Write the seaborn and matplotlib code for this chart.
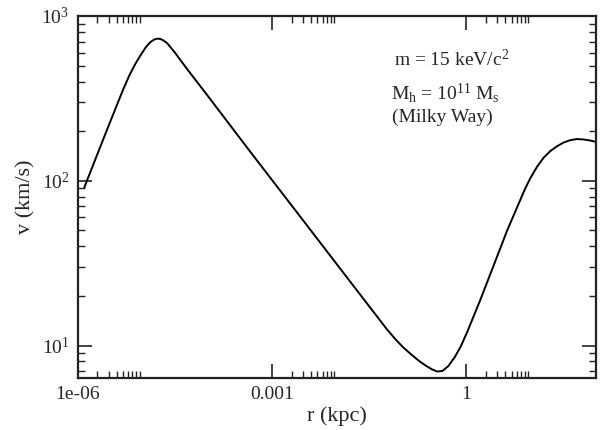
import numpy as np
import pandas as pd
import matplotlib
matplotlib.use("Agg")
import matplotlib.pyplot as plt
import seaborn as sns
from matplotlib.ticker import FixedLocator, FuncFormatter, NullFormatter

# data (log10 of r in kpc, log10 of v in km/s)
log_r = [-5.898, -5.6, -5.4, -5.3, -5.2, -5.12, -5.038, -4.95, -4.883, -4.82,
         -4.768, -4.72, -4.674, -4.62, -4.575, -4.50, -4.420, -4.30, -4.186,
         -4.0, -3.337, -2.565, -1.793, -1.223, -1.10, -0.98, -0.85, -0.73,
         -0.621, -0.53, -0.451, -0.37, -0.28, -0.18, -0.083, 0.020, 0.213,
         0.419, 0.625, 0.830, 0.91, 0.985, 1.09, 1.191, 1.294, 1.40, 1.50,
         1.60, 1.70, 1.80, 1.90, 1.989]
log_v = [1.960, 2.258, 2.455, 2.553, 2.642, 2.703, 2.757, 2.810, 2.840, 2.857,
         2.863, 2.860, 2.851, 2.835, 2.814, 2.778, 2.735, 2.672, 2.614,
         2.519, 2.176, 1.782, 1.387, 1.096, 1.040, 0.990, 0.945, 0.906,
         0.876, 0.855, 0.842, 0.846, 0.875, 0.930, 0.998, 1.090, 1.276,
         1.485, 1.695, 1.883, 1.955, 2.015, 2.085, 2.140, 2.180, 2.210, 2.232,
         2.246, 2.253, 2.251, 2.245, 2.237]

r_kpc = [10 ** a for a in log_r]
v_kms = [10 ** b for b in log_v]

x_major = [1e-6, 1e-3, 1.0]
x_major_labels = ["1e-06", "0.001", "1"]
y_major = [10, 100, 1000]

sns.set_theme(style="ticks")
plt.rcParams['font.family'] = ['Liberation Serif', 'DejaVu Serif']
plt.rcParams['mathtext.fontset'] = 'custom'
plt.rcParams['mathtext.rm'] = 'Liberation Serif'
plt.rcParams['mathtext.it'] = 'Liberation Serif'

fig = plt.figure(figsize=(6.13, 4.30), dpi=100)
ax = fig.add_axes([0.1268, 0.1209, 0.8455, 0.8419])

df = pd.DataFrame({"r": r_kpc, "v": v_kms})
sns.lineplot(data=df, x="r", y="v", ax=ax, color="black", lw=1.4,
             sort=False, estimator=None)

ax.set_xscale("log")
ax.set_yscale("log")
ax.set_xlim(1e-6, 1e2)
ax.set_ylim(6.35, 1000)

ax.xaxis.set_major_locator(FixedLocator(x_major))
ax.xaxis.set_major_formatter(FuncFormatter(
    lambda val, pos: dict(zip(x_major, x_major_labels)).get(val, "")))
xminor = [m * b for b in x_major for m in range(2, 10)]
ax.xaxis.set_minor_locator(FixedLocator(xminor))
ax.xaxis.set_minor_formatter(NullFormatter())

ax.yaxis.set_major_locator(FixedLocator(y_major))
ax.yaxis.set_major_formatter(FuncFormatter(
    lambda val, pos: r"$10^{%d}$" % int(round(np.log10(val)))))
yminor = [m * b for b in [1, 10, 100] for m in range(2, 10)]
ax.yaxis.set_minor_locator(FixedLocator(yminor))
ax.yaxis.set_minor_formatter(NullFormatter())

ax.tick_params(which="both", direction="in", top=True, right=True,
               color="#222222", labelsize=14)
ax.tick_params(which="major", length=10, width=1.2, pad=6)
ax.tick_params(which="minor", length=5, width=1.0)
for s in ax.spines.values():
    s.set_linewidth(1.6)
    s.set_color("#222222")

ax.set_xlabel("r (kpc)", fontsize=16, labelpad=2)
ax.set_ylabel("v (km/s)", fontsize=16, labelpad=4)

ax.text(0.610, 0.862, r"m = 15 keV/c$^2$", transform=ax.transAxes,
        ha="left", va="baseline", fontsize=14)
ax.text(0.604, 0.770, r"M$_{\rm h}$ = 10$^{11}$ M$_{\rm s}$", transform=ax.transAxes,
        ha="left", va="baseline", fontsize=14)
ax.text(0.606, 0.706, "(Milky Way)", transform=ax.transAxes,
        ha="left", va="baseline", fontsize=14)

fig.savefig("out.png", dpi=100)
